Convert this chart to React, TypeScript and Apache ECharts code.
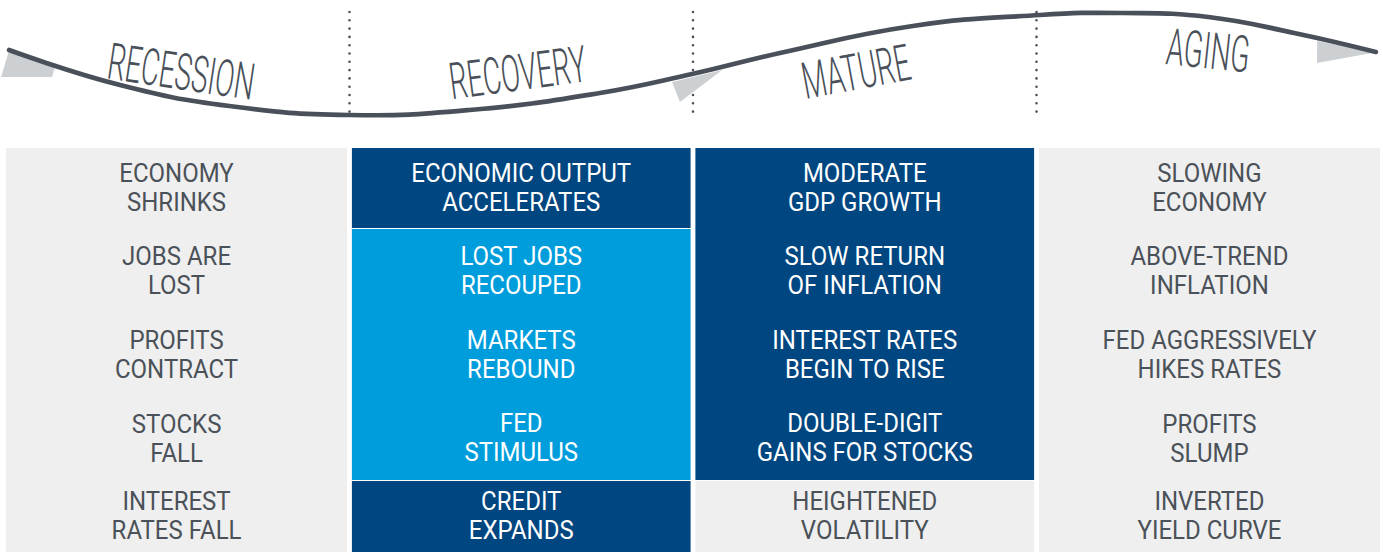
import React, { useEffect, useRef } from "react";
import * as echarts from "echarts";

// ---- Phase header (wave) ----
const phases = ["RECESSION", "RECOVERY", "MATURE", "AGING"];
const phaseLabelX = [0.51, 1.49, 2.475, 3.5];
const phaseLabelY = [72, 73, 72, 51];
const phaseLabelTilt = [-8.5, 7.5, 10.5, -6]; // degrees, positive = counter-clockwise

const curveX = [0.009, 0.332, 0.65, 0.999, 1.35, 1.729, 1.997, 2.253, 2.64, 3.01, 3.25, 3.5, 3.75, 3.988];
const curveY = [50, 85, 106, 115, 110, 93, 74, 53, 26, 15, 13, 17, 33, 52];

const dividerX = [1, 2, 3];
const dividerSpan = [12, 118];

const foldShadeLeft = [[0.009, 50], [-0.014, 77], [0.134, 77], [0.145, 64]];
const foldShadeMid = [[1.939, 82], [1.962, 102], [2.085, 70]];
const foldShadeRight = [[3.817, 41], [3.817, 63], [3.992, 52]];

// ---- Table ----
const rowEdges = [0, 81, 165, 249, 333, 404];

const recessionItems = ["ECONOMY\nSHRINKS", "JOBS ARE\nLOST", "PROFITS\nCONTRACT", "STOCKS\nFALL", "INTEREST\nRATES FALL"];
const recoveryItems = ["ECONOMIC OUTPUT\nACCELERATES", "LOST JOBS\nRECOUPED", "MARKETS\nREBOUND", "FED\nSTIMULUS", "CREDIT\nEXPANDS"];
const matureItems = ["MODERATE\nGDP GROWTH", "SLOW RETURN\nOF INFLATION", "INTEREST RATES\nBEGIN TO RISE", "DOUBLE-DIGIT\nGAINS FOR STOCKS", "HEIGHTENED\nVOLATILITY"];
const agingItems = ["SLOWING\nECONOMY", "ABOVE-TREND\nINFLATION", "FED AGGRESSIVELY\nHIKES RATES", "PROFITS\nSLUMP", "INVERTED\nYIELD CURVE"];

const recessionTones = ["grey", "grey", "grey", "grey", "grey"];
const recoveryTones = ["dark", "light", "light", "light", "dark"];
const matureTones = ["dark", "dark", "dark", "dark", "grey"];
const agingTones = ["grey", "grey", "grey", "grey", "grey"];

const toneFill: Record<string, string> = { grey: "#efefef", dark: "#004680", light: "#009ddc" };
const toneText: Record<string, string> = { grey: "#4b5158", dark: "#ffffff", light: "#ffffff" };
const INK = "#4a5059";

export default function App() {
  const ref = useRef<HTMLDivElement>(null);

  useEffect(() => {
    if (!ref.current) return;
    const chart = echarts.init(ref.current, null, { renderer: "svg" });

    const columns = [
      { items: recessionItems, tones: recessionTones },
      { items: recoveryItems, tones: recoveryTones },
      { items: matureItems, tones: matureTones },
      { items: agingItems, tones: agingTones },
    ];
    const cells: { c: number; r: number; text: string; tone: string; split: boolean }[] = [];
    columns.forEach((col, c) => {
      col.items.forEach((text, r) => {
        const tone = col.tones[r];
        const next = col.tones[r + 1];
        cells.push({ c, r, text, tone, split: next !== undefined && next !== tone });
      });
    });

    const option: any = {
      animation: false,
      grid: [
        { left: 6, right: 3, top: 0, height: 130 },
        { left: 6, right: 3, top: 148, height: 404 },
      ],
      xAxis: [
        { type: "value", min: 0, max: 4, show: false, gridIndex: 0 },
        { type: "value", min: 0, max: 4, show: false, gridIndex: 1 },
      ],
      yAxis: [
        { type: "value", min: 0, max: 130, inverse: true, show: false, gridIndex: 0 },
        { type: "value", min: 0, max: 404, inverse: true, show: false, gridIndex: 1 },
      ],
      series: [
        {
          type: "custom",
          xAxisIndex: 0,
          yAxisIndex: 0,
          z: 1,
          clip: false,
          data: dividerX.map((x) => [x, dividerSpan[0], dividerSpan[1]]),
          renderItem: (params: any, api: any) => {
            const a = api.coord([api.value(0), api.value(1)]);
            const b = api.coord([api.value(0), api.value(2)]);
            return {
              type: "line",
              shape: { x1: a[0], y1: a[1], x2: b[0], y2: b[1] },
              style: { stroke: INK, lineWidth: 2.6, lineDash: [0, 8.3], lineCap: "round" },
            };
          },
        },
        {
          type: "custom",
          xAxisIndex: 0,
          yAxisIndex: 0,
          z: 2,
          clip: false,
          data: [0, 1, 2],
          renderItem: (params: any, api: any) => {
            const shapes = [foldShadeLeft, foldShadeMid, foldShadeRight];
            const pts = shapes[params.dataIndex].map((p) => api.coord(p));
            return { type: "polygon", shape: { points: pts }, style: { fill: "#cdd0d3" } };
          },
        },
        {
          type: "custom",
          xAxisIndex: 0,
          yAxisIndex: 0,
          z: 3,
          clip: false,
          data: [0],
          renderItem: (params: any, api: any) => {
            const pts = curveX.map((x, i) => api.coord([x, curveY[i]]));
            return {
              type: "polyline",
              shape: { points: pts, smooth: 0.45 },
              style: { stroke: INK, lineWidth: 4.7, lineCap: "round", lineJoin: "round", fill: null },
            };
          },
        },
        {
          type: "custom",
          xAxisIndex: 0,
          yAxisIndex: 0,
          z: 4,
          clip: false,
          data: phases.map((_, i) => [phaseLabelX[i], phaseLabelY[i]]),
          renderItem: (params: any, api: any) => {
            const p = api.coord([api.value(0), api.value(1)]);
            const i = params.dataIndex;
            return {
              type: "text",
              x: p[0],
              y: p[1],
              rotation: (phaseLabelTilt[i] * Math.PI) / 180,
              scaleX: 0.55,
              style: {
                text: phases[i],
                font: "300 51px Roboto",
                fill: INK,
                align: "center",
                verticalAlign: "middle",
              },
            };
          },
        },
        {
          type: "custom",
          xAxisIndex: 1,
          yAxisIndex: 1,
          clip: false,
          data: cells.map((d) => [d.c, rowEdges[d.r], rowEdges[d.r + 1]]),
          renderItem: (params: any, api: any) => {
            const d = cells[params.dataIndex];
            const c = api.value(0);
            const p0 = api.coord([c, api.value(1)]);
            const p1 = api.coord([c + 1, api.value(2)]);
            const left = p0[0] + (c > 0 ? 2.4 : 0);
            const right = p1[0] - (c < 3 ? 2.4 : 0);
            const top = p0[1];
            const bottom = p1[1] - (d.split ? 1 : 0);
            return {
              type: "group",
              children: [
                {
                  type: "rect",
                  shape: { x: left, y: top, width: right - left, height: bottom - top },
                  style: { fill: toneFill[d.tone] },
                },
                {
                  type: "text",
                  x: (left + right) / 2,
                  y: (top + bottom) / 2 - 0.5,
                  scaleX: 0.96,
                  style: {
                    text: d.text,
                    font: "400 25px Roboto",
                    lineHeight: 29,
                    fill: toneText[d.tone],
                    align: "center",
                    verticalAlign: "middle",
                  },
                },
              ],
            };
          },
        },
      ],
    };

    chart.setOption(option);
    return () => chart.dispose();
  }, []);

  return <div ref={ref} style={{ width: 1383, height: 554, position: "absolute", left: 0, top: 0 }} />;
}
